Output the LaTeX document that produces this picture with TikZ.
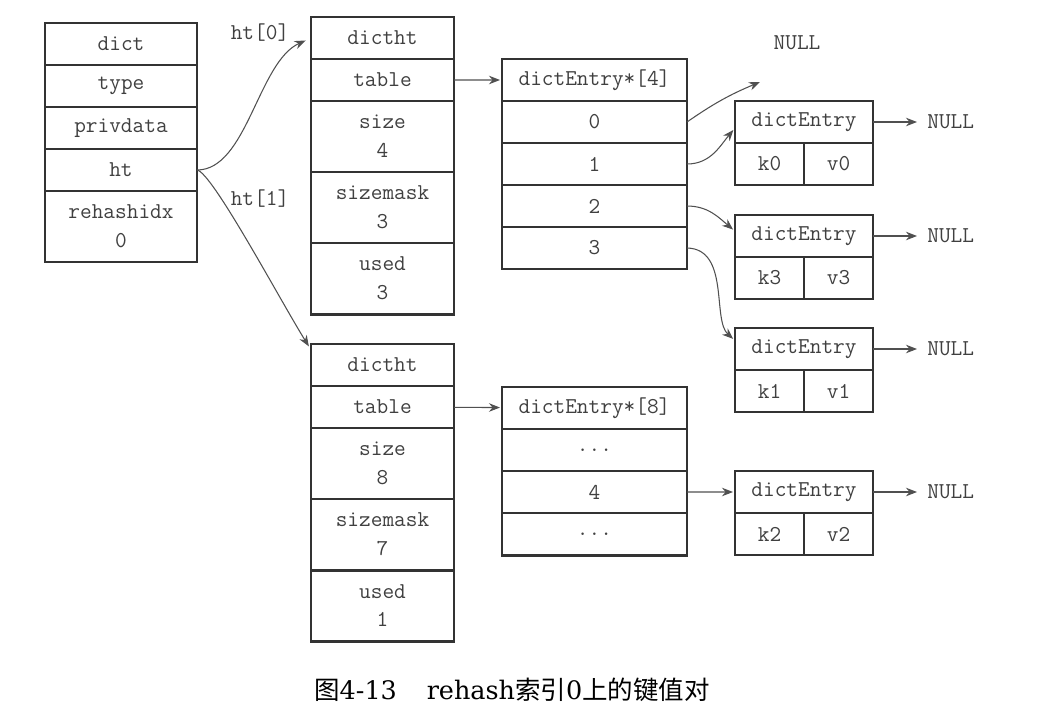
\documentclass[tikz,border=0pt]{standalone}
\usepackage{fontspec}
\setmainfont{DejaVu Serif}
\newfontfamily\cjk{Noto Sans CJK SC}
\usetikzlibrary{arrows.meta,positioning}
\definecolor{boxc}{HTML}{333333}
\definecolor{txtc}{HTML}{404040}
\definecolor{arrc}{HTML}{505050}
\tikzset{
  cell/.style={draw=boxc, line width=1.7pt, inner sep=0pt, outer sep=0pt,
               minimum height=8.4mm, text=txtc, align=center,
               font=\ttfamily\fontsize{12.9}{16.4}\selectfont},
  tall/.style={minimum height=14.2mm},
  dictcol/.style={cell, minimum width=30.4mm},
  htcol/.style={cell, minimum width=28.6mm},
  tabcol/.style={cell, minimum width=37mm},
  entcol/.style={cell, minimum width=27.6mm},
  kvcol/.style={cell, minimum width=13.8mm},
  lbl/.style={text=txtc, inner sep=0pt, font=\ttfamily\fontsize{12.9}{14}\selectfont},
  ptr/.style={-{Stealth[length=2.2mm,width=1.7mm]}, draw=arrc, line width=0.6pt}
}
\begin{document}
\begin{tikzpicture}[x=0.2mm, y=-0.2mm]
\useasboundingbox (0,0) rectangle (1060,718);
% dict
\node[dictcol] (dict) at (121,44) {dict};
\node[dictcol, below=0pt of dict] (type) {type};
\node[dictcol, below=0pt of type] (priv) {privdata};
\node[dictcol, below=0pt of priv] (ht) {ht};
\node[dictcol, tall, below=0pt of ht] (ridx) {rehashidx\\0};
% ht[0]
\node[htcol] (h0) at (382.5,38) {dictht};
\node[htcol, below=0pt of h0] (h0tab) {table};
\node[htcol, tall, below=0pt of h0tab] (h0size) {size\\4};
\node[htcol, tall, below=0pt of h0size] (h0mask) {sizemask\\3};
\node[htcol, tall, below=0pt of h0mask] (h0used) {used\\3};
% ht[1]
\node[htcol] (h1) at (382.5,365) {dictht};
\node[htcol, below=0pt of h1] (h1tab) {table};
\node[htcol, tall, below=0pt of h1tab] (h1size) {size\\8};
\node[htcol, tall, below=0pt of h1size] (h1mask) {sizemask\\7};
\node[htcol, tall, below=0pt of h1mask] (h1used) {used\\1};
% table of ht[0]
\node[tabcol] (t4) at (594.5,80) {dictEntry*[4]};
\node[tabcol, below=0pt of t4] (r0) {0};
\node[tabcol, below=0pt of r0] (r1) {1};
\node[tabcol, below=0pt of r1] (r2) {2};
\node[tabcol, below=0pt of r2] (r3) {3};
% table of ht[1]
\node[tabcol] (t8) at (594.5,408) {dictEntry*[8]};
\node[tabcol, below=0pt of t8] (s0) {...};
\node[tabcol, below=0pt of s0] (s4) {4};
\node[tabcol, below=0pt of s4] (s5) {...};
% entries
\node[entcol] (e0) at (804,122) {dictEntry};
\node[kvcol, anchor=north west] (k0) at (e0.south west) {k0};
\node[kvcol, anchor=north east] (v0) at (e0.south east) {v0};
\node[entcol] (e3) at (804,236) {dictEntry};
\node[kvcol, anchor=north west] (k3) at (e3.south west) {k3};
\node[kvcol, anchor=north east] (v3) at (e3.south east) {v3};
\node[entcol] (e1) at (804,349) {dictEntry};
\node[kvcol, anchor=north west] (k1) at (e1.south west) {k1};
\node[kvcol, anchor=north east] (v1) at (e1.south east) {v1};
\node[entcol] (e2) at (804,492) {dictEntry};
\node[kvcol, anchor=north west] (k2) at (e2.south west) {k2};
\node[kvcol, anchor=north east] (v2) at (e2.south east) {v2};
% NULLs
\node[lbl] (ntop) at (797,43) {NULL};
\coordinate (nend) at (760,82);
\node[lbl, anchor=west] (n0) at (927,122) {NULL};
\node[lbl, anchor=west] (n3) at (927,236) {NULL};
\node[lbl, anchor=west] (n1) at (927,349) {NULL};
\node[lbl, anchor=west] (n2) at (927,492) {NULL};
% labels
\node[lbl] (l0) at (260,33) {ht[0]};
\node[lbl] (l1) at (260,199) {ht[1]};
% pointers
\draw[ptr, shorten >=1.2mm] (ht.east) .. controls (247,170) and (258,62) .. (h0.west);
\draw[ptr, shorten >=0.8mm] (ht.east) .. controls (212,172) and (280,300) .. (h1.168);
\draw[ptr, shorten >=0.4mm] (h0tab) -- (t4);
\draw[ptr, shorten >=0.4mm] (h1tab) -- (t8);
\draw[ptr] (r0.east) to[bend left=6] (nend);
\draw[ptr, shorten >=0.5mm] (r1.east) to[out=0, in=230] (e0.185);
\draw[ptr, shorten >=0.5mm] (r2.east) to[out=0, in=140] (e3.176);
\draw[ptr, shorten >=0.5mm] (r3.east) .. controls (730,249) and (712,320) .. (e1.173);
\draw[ptr, shorten >=0.4mm] (s4) -- (e2);
\draw[ptr, shorten >=2mm] (e0) -- (n0);
\draw[ptr, shorten >=2mm] (e3) -- (n3);
\draw[ptr, shorten >=2mm] (e1) -- (n1);
\draw[ptr, shorten >=2mm] (e2) -- (n2);
% caption
\node[font=\fontsize{14.5}{17}\selectfont] (cap) at (512,690)
  {{\cjk 图}4-13\hspace{17pt}rehash{\cjk 索引}0{\cjk 上的键值对}};
\end{tikzpicture}
\end{document}
